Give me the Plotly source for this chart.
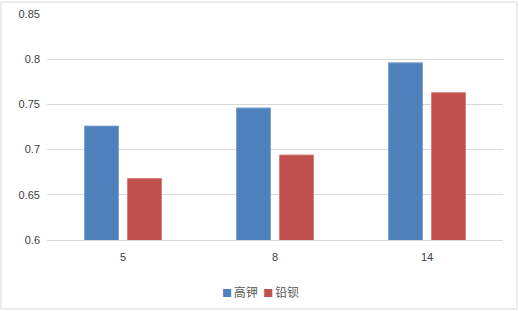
import plotly.graph_objects as go

categories = ["5", "8", "14"]
series_names = ["高钾", "铅钡"]
high_k = [0.726, 0.746, 0.796]
lead_ba = [0.668, 0.694, 0.763]
series_colors = ["#4F81BD", "#C0504D"]
y_ticks = [0.6, 0.65, 0.7, 0.75, 0.8, 0.85]
y_tick_labels = ["0.6", "0.65", "0.7", "0.75", "0.8", "0.85"]

W, H = 519, 311
ml, mr, mt, mb = 47, 16, 14, 71

fig = go.Figure()
fig.add_trace(go.Bar(x=categories, y=high_k, name=series_names[0], showlegend=False,
                     marker=dict(color=series_colors[0], line=dict(color="#7DA2CF", width=1))))
fig.add_trace(go.Bar(x=categories, y=lead_ba, name=series_names[1], showlegend=False,
                     marker=dict(color=series_colors[1], line=dict(color="#D4827F", width=1))))

pw = W - ml - mr
ph = H - mt - mb
fig.add_shape(type="rect", xref="paper", yref="paper",
              x0=-(ml - 1) / pw, x1=1 + (mr - 2) / pw,
              y0=-(mb - 2) / ph, y1=1 + (mt - 2) / ph,
              line=dict(color="#D9D9D9", width=1), layer="below")

legend_text = '<span style="font-size:12px">\u00a0\u00a0</span>'.join(
    f'<span style="color:{c};font-size:10px">■</span><span style="font-size:8px">\u00a0</span>{n}'
    for c, n in zip(series_colors, series_names)
)
fig.add_annotation(text=legend_text, xref="paper", yref="paper",
                   x=(260 - ml) / pw, y=-(291 - mt - ph) / ph,
                   xanchor="center", yanchor="middle", showarrow=False,
                   font=dict(family="Noto Sans CJK SC", size=12, color="#595959"))

fig.update_layout(
    width=W, height=H,
    margin=dict(l=ml, r=mr, t=mt, b=mb, autoexpand=False),
    paper_bgcolor="white", plot_bgcolor="white",
    barmode="group", bargap=0.434, bargroupgap=0.21,
    font=dict(family="Liberation Sans, Noto Sans CJK SC", size=11, color="#595959"),
    showlegend=False,
    xaxis=dict(showgrid=False, showline=True, linecolor="#D9D9D9", linewidth=1,
               ticks="", automargin=False, ticklabelstandoff=7,
               tickfont=dict(size=11, color="#404040")),
    yaxis=dict(range=[0.6, 0.85], tickvals=y_ticks, ticktext=y_tick_labels,
               showgrid=True, gridcolor="#D9D9D9", gridwidth=1, zeroline=False,
               showline=False, ticks="", automargin=False, ticklabelstandoff=6,
               tickfont=dict(size=11, color="#404040")),
)

fig.write_html("out.html", config={"displayModeBar": False},
               post_script="document.body.style.margin='0';document.body.style.overflow='hidden';")
